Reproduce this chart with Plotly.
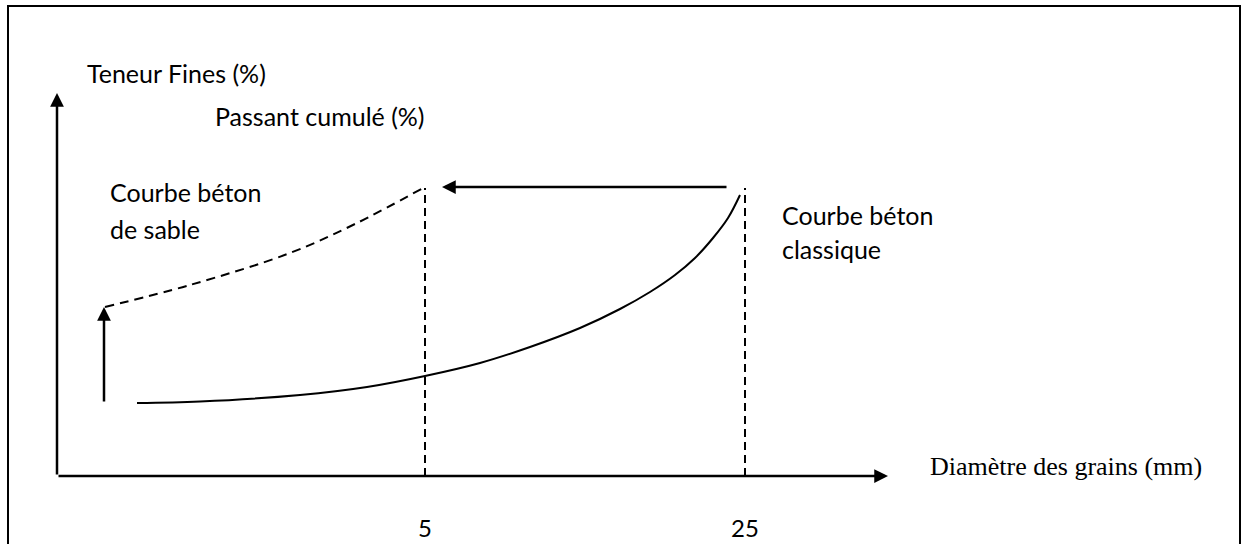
import plotly.graph_objects as go

# diagram units: origin at the axes corner, 1 unit = 1 px, y upwards
classique_x = [80, 143, 243, 310, 368, 423, 473, 523, 563, 593, 618, 638, 656, 671, 683]
classique_y = [73, 74.5, 81, 89, 100, 113, 129, 148, 167, 184, 201, 218, 238, 258, 281]

sable_x = [48, 133, 233, 300, 366]
sable_y = [169, 191, 223, 253, 288]

tick_vals = [368, 688]
tick_text = ["5", "25"]
guide_top = 288

x_axis_end = 831
y_axis_end = 383

sans = "Lato"
serif = "Liberation Serif"

fig = go.Figure()

fig.add_trace(go.Scatter(
    x=classique_x, y=classique_y,
    mode="lines",
    line=dict(color="black", width=2, shape="spline", smoothing=1),
    hoverinfo="skip",
))
fig.add_trace(go.Scatter(
    x=sable_x, y=sable_y,
    mode="lines",
    line=dict(color="black", width=2, dash="9px,6px", shape="spline"),
    hoverinfo="skip",
))
for tv in tick_vals:
    fig.add_trace(go.Scatter(
        x=[tv, tv], y=[0, guide_top],
        mode="lines",
        line=dict(color="black", width=2, dash="8px,5px"),
        hoverinfo="skip",
    ))

arrows = [
    # (tail_x, tail_y, head_x, head_y)
    (0, 0, x_axis_end, 0),
    (0, 0, 0, y_axis_end),
    (47, 73, 47, 169),
    (671, 289, 385, 289),
]
for ax_, ay_, x_, y_ in arrows:
    fig.add_annotation(
        x=x_, y=y_, ax=ax_, ay=ay_,
        xref="x", yref="y", axref="x", ayref="y",
        showarrow=True, arrowhead=2, arrowsize=1.1, arrowwidth=2.5,
        arrowcolor="black", text="",
    )

labels = [
    ("Teneur Fines (%)", 28, 403, sans),
    ("Passant cumulé (%)", 156, 360, sans),
    ("Courbe béton", 51, 284, sans),
    ("de sable", 51, 247, sans),
    ("Courbe béton", 723, 261, sans),
    ("classique", 723, 227, sans),
    ("Diamètre des grains (mm)", 871, 10, serif),
]
for txt, lx, ly, fam in labels:
    fig.add_annotation(
        x=lx, y=ly, xref="x", yref="y", text=txt, showarrow=False,
        xanchor="left", yanchor="middle",
        font=dict(family=fam, size=25 if fam == sans else 26, color="black"),
    )

for tv, tt in zip(tick_vals, tick_text):
    fig.add_annotation(
        x=tv, y=-51, xref="x", yref="y", text=tt, showarrow=False,
        xanchor="center", yanchor="middle",
        font=dict(family=sans, size=24, color="black"),
    )

# frame round the figure
fig.add_shape(type="rect", x0=-49, x1=1183, y0=-120, y1=470,
              xref="x", yref="y", line=dict(color="black", width=2))

fig.update_layout(
    width=1245, height=544,
    margin=dict(l=0, r=0, t=0, b=0),
    paper_bgcolor="white", plot_bgcolor="white",
    showlegend=False,
    xaxis=dict(range=[-57, 1188], visible=False, fixedrange=True),
    yaxis=dict(range=[-68, 476], visible=False, fixedrange=True),
)

# drop the browser's default page margin so the figure sits at 0,0
fig.write_html("out.html", post_script="document.body.style.margin='0';",
               config=dict(displayModeBar=False))
